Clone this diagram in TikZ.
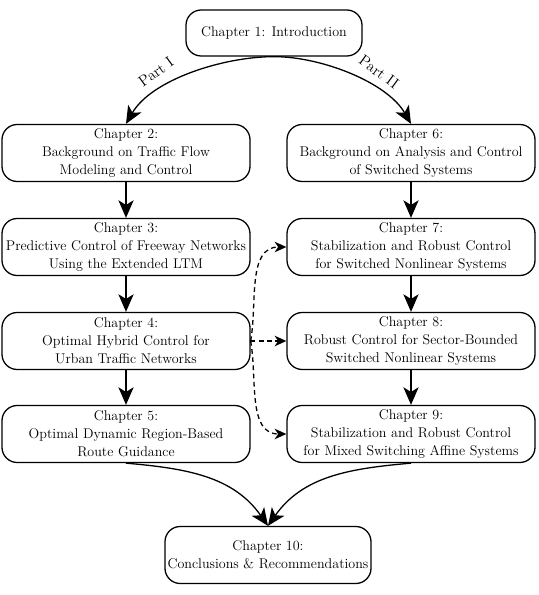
\documentclass[tikz,border=0pt]{standalone}
\usetikzlibrary{arrows.meta}
\tikzset{
  chap/.style={draw,line width=1.1pt,rounded corners=13pt,align=center,
    minimum width=7.44cm,minimum height=1.71cm,inner sep=2pt,
    font=\fontsize{12}{15.5}\selectfont},
  flow/.style={line width=1.1pt,-{Stealth[length=15pt,width=13pt,inset=4pt]}},
  link/.style={line width=1.1pt,dash pattern=on 4pt off 3pt,
    -{Stealth[length=10pt,width=9pt,inset=3pt]}},
  partlabel/.style={font=\fontsize{13}{15}\selectfont,inner sep=1pt}
}
\begin{document}
\begin{tikzpicture}[x=0.03cm,y=-0.03cm]
  \useasboundingbox (0,0) rectangle (539,595);
  \node [chap,minimum width=5.28cm,minimum height=1.38cm] (c1) at (274,33)
    {Chapter 1: Introduction};
  \node [chap] (c2) at (126,153)
    {Chapter 2:\\Background on Traffic Flow\\Modeling and Control};
  \node [chap] (c3) at (126,247)
    {Chapter 3:\\Predictive Control of Freeway Networks\\Using the Extended LTM};
  \node [chap] (c4) at (126,341)
    {Chapter 4:\\Optimal Hybrid Control for\\Urban Traffic Networks};
  \node [chap] (c5) at (126,434)
    {Chapter 5:\\Optimal Dynamic Region-Based\\Route Guidance};
  \node [chap] (c6) at (411,153)
    {Chapter 6:\\Background on Analysis and Control\\of Switched Systems};
  \node [chap] (c7) at (411,247)
    {Chapter 7:\\Stabilization and Robust Control\\for Switched Nonlinear Systems};
  \node [chap] (c8) at (411,341)
    {Chapter 8:\\Robust Control for Sector-Bounded\\Switched Nonlinear Systems};
  \node [chap] (c9) at (411,434)
    {Chapter 9:\\Stabilization and Robust Control\\for Mixed Switching Affine Systems};
  \node [chap,minimum width=6.18cm] (c10) at (268,555)
    {Chapter 10:\\Conclusions \& Recommendations};
  % the two parts
  \draw [flow] (c1.south) to[out=180,in=60,looseness=0.8] (c2.north);
  \draw [flow] (c1.south) to[out=0,in=120,looseness=0.8] (c6.north);
  \node [partlabel,rotate=36] (p1) at (156,72) {Part I};
  \node [partlabel,rotate=-36] (p2) at (379,72) {Part II};
  % reading order
  \draw [flow] (c2) -- (c3);
  \draw [flow] (c3) -- (c4);
  \draw [flow] (c4) -- (c5);
  \draw [flow] (c6) -- (c7);
  \draw [flow] (c7) -- (c8);
  \draw [flow] (c8) -- (c9);
  \draw [flow] (c5.south) to[out=-5,in=125] (c10.north);
  \draw [flow] (c9.south) to[out=185,in=55] (c10.north);
  % links between the parts
  \draw [link] (c4.east) to[out=80,in=180] (c7.west);
  \draw [link] (c4.east) -- (c8.west);
  \draw [link] (c4.east) to[out=-80,in=180] (c9.west);
\end{tikzpicture}
\end{document}
